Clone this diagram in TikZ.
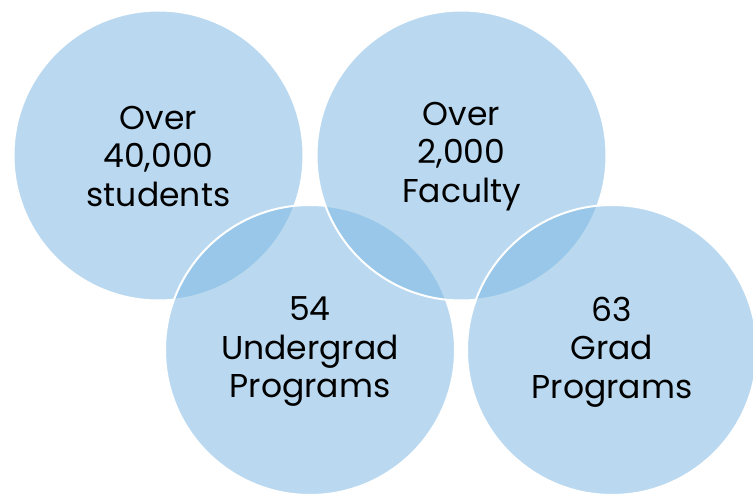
\documentclass[tikz,border=0pt]{standalone}
\usepackage{fontspec}
\setmainfont{Poppins}
\definecolor{vennblue}{RGB}{123,183,226}
\begin{document}
\begin{tikzpicture}[x=1pt,y=-1pt,
  venn/.style={circle, minimum size=290pt, inner sep=0pt, fill=vennblue, fill opacity=0.52, draw=white, draw opacity=1, line width=2pt},
  vlabel/.style={align=center, text=black, font=\fontsize{33}{38.5}\selectfont}]
\useasboundingbox (0,0) rectangle (753,495);
\node[venn] (c1) at (158.5,155.5) {};
\node[venn] (c3) at (310,350) {};
\node[venn] (c2) at (461.5,155.5) {};
\node[venn] (c4) at (612,350) {};
\node[vlabel] (t1) at ([yshift=-1pt]c1.center) {Over\\40,000\\students};
\node[vlabel] (t2) at ([yshift=-1pt]c2.center) {Over\\2,000\\Faculty};
\node[vlabel] (t3) at ([yshift=-2pt]c3.center) {54\\Undergrad\\Programs};
\node[vlabel] (t4) at ([yshift=-2pt]c4.center) {63\\Grad\\Programs};
\end{tikzpicture}
\end{document}
